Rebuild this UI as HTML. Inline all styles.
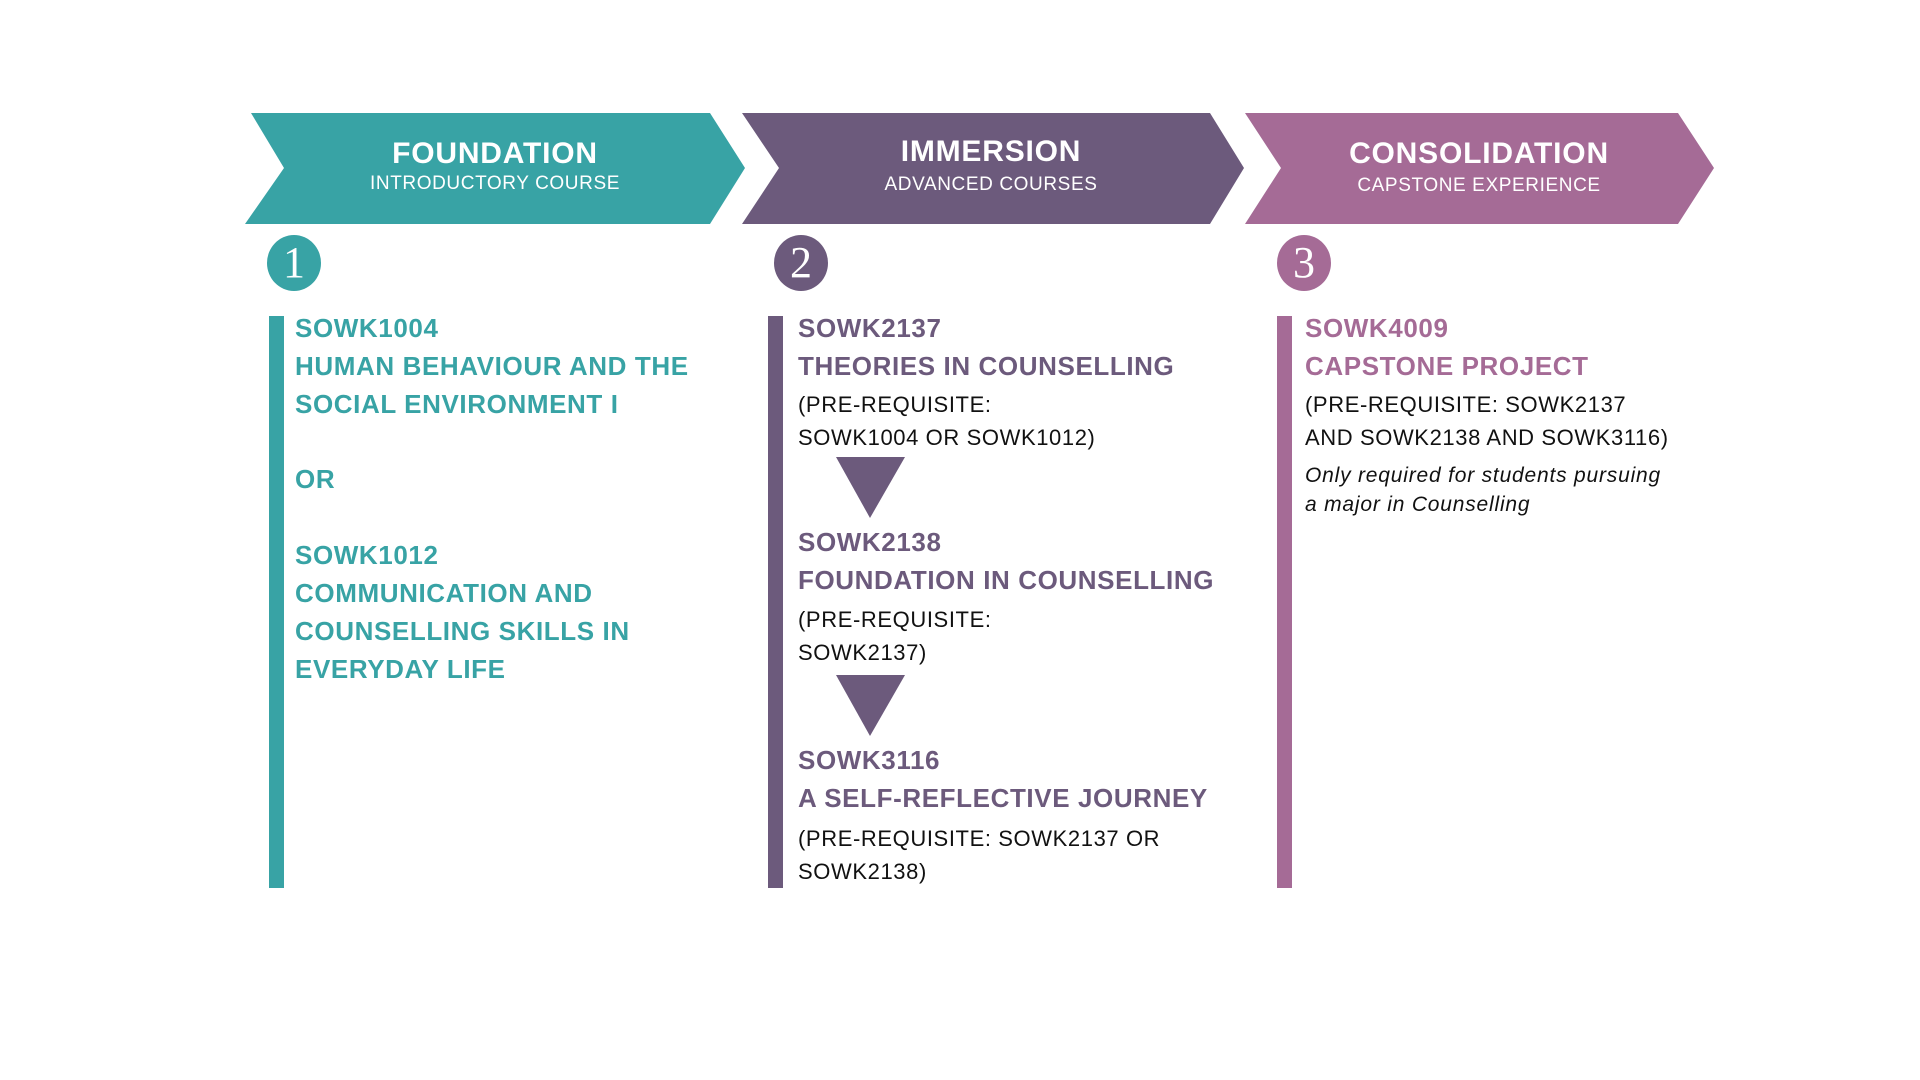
<!DOCTYPE html>
<html><head><meta charset="utf-8"><style>
body{margin:0;width:1920px;height:1080px;background:#fff;position:relative;overflow:hidden;font-family:"Liberation Sans",sans-serif}
.t{position:absolute;white-space:nowrap;line-height:40px;height:40px}
.h{font-weight:bold;font-size:30px;color:#fff;text-align:center;width:500px;letter-spacing:0.8px}
.s{font-size:19px;color:#fff;text-align:center;width:500px;letter-spacing:0.6px}
.b{font-weight:bold;font-size:26px;letter-spacing:0.6px}
.r{font-size:22px;color:#111;letter-spacing:0.6px}
.i{font-size:21px;color:#111;font-style:italic;letter-spacing:0.8px}
.teal{color:#38a3a5}.pur{color:#6c5a7c}.mau{color:#a56b96}
.bar{position:absolute;top:316px;height:572px;width:15px}
.c{position:absolute;width:54px;height:56px;border-radius:50%;color:#fff;font-family:"Liberation Serif",serif;font-size:44px;text-align:center;line-height:56px;top:235px}
</style></head><body>
<svg width="1920" height="1080" style="position:absolute;left:0;top:0">
<polygon points="251,113 710,113 745,168 710,224 245,224 284,168" fill="#38a3a5"/>
<polygon points="742,113 1210,113 1244,168 1210,224 742,224 779,168" fill="#6c5a7c"/>
<polygon points="1245,113 1678,113 1714,168 1678,224 1245,224 1281,168" fill="#a56b96"/>
<polygon points="836,457 905,457 870,518" fill="#6c5a7c"/>
<polygon points="836,675 905,675 870,736" fill="#6c5a7c"/>
</svg>
<div class="t h" style="left:245px;top:134px">FOUNDATION</div>
<div class="t s" style="left:245px;top:164px">INTRODUCTORY COURSE</div>
<div class="t h" style="left:741px;top:132px">IMMERSION</div>
<div class="t s" style="left:741px;top:165px">ADVANCED COURSES</div>
<div class="t h" style="left:1229px;top:134px">CONSOLIDATION</div>
<div class="t s" style="left:1229px;top:166px">CAPSTONE EXPERIENCE</div>

<div class="c" style="left:267px;background:#38a3a5">1</div>
<div class="c" style="left:774px;background:#6c5a7c">2</div>
<div class="c" style="left:1277px;background:#a56b96">3</div>

<div class="bar" style="left:269px;background:#38a3a5"></div>
<div class="bar" style="left:768px;background:#6c5a7c"></div>
<div class="bar" style="left:1277px;background:#a56b96"></div>

<div class="t b teal" style="left:295px;top:308px">SOWK1004</div>
<div class="t b teal" style="left:295px;top:346px">HUMAN BEHAVIOUR AND THE</div>
<div class="t b teal" style="left:295px;top:384px">SOCIAL ENVIRONMENT I</div>
<div class="t b teal" style="left:295px;top:459px">OR</div>
<div class="t b teal" style="left:295px;top:535px">SOWK1012</div>
<div class="t b teal" style="left:295px;top:573px">COMMUNICATION AND</div>
<div class="t b teal" style="left:295px;top:611px">COUNSELLING SKILLS IN</div>
<div class="t b teal" style="left:295px;top:649px">EVERYDAY LIFE</div>

<div class="t b pur" style="left:798px;top:308px">SOWK2137</div>
<div class="t b pur" style="left:798px;top:346px">THEORIES IN COUNSELLING</div>
<div class="t r" style="left:798px;top:385px">(PRE-REQUISITE:</div>
<div class="t r" style="left:798px;top:418px">SOWK1004 OR SOWK1012)</div>
<div class="t b pur" style="left:798px;top:522px">SOWK2138</div>
<div class="t b pur" style="left:798px;top:560px">FOUNDATION IN COUNSELLING</div>
<div class="t r" style="left:798px;top:600px">(PRE-REQUISITE:</div>
<div class="t r" style="left:798px;top:633px">SOWK2137)</div>
<div class="t b pur" style="left:798px;top:740px">SOWK3116</div>
<div class="t b pur" style="left:798px;top:778px">A SELF-REFLECTIVE JOURNEY</div>
<div class="t r" style="left:798px;top:819px">(PRE-REQUISITE: SOWK2137 OR</div>
<div class="t r" style="left:798px;top:852px">SOWK2138)</div>

<div class="t b mau" style="left:1305px;top:308px">SOWK4009</div>
<div class="t b mau" style="left:1305px;top:346px">CAPSTONE PROJECT</div>
<div class="t r" style="left:1305px;top:385px">(PRE-REQUISITE: SOWK2137</div>
<div class="t r" style="left:1305px;top:418px">AND SOWK2138 AND SOWK3116)</div>
<div class="t i" style="left:1305px;top:456px">Only required for students pursuing</div>
<div class="t i" style="left:1305px;top:485px">a major in Counselling</div>
</body></html>
